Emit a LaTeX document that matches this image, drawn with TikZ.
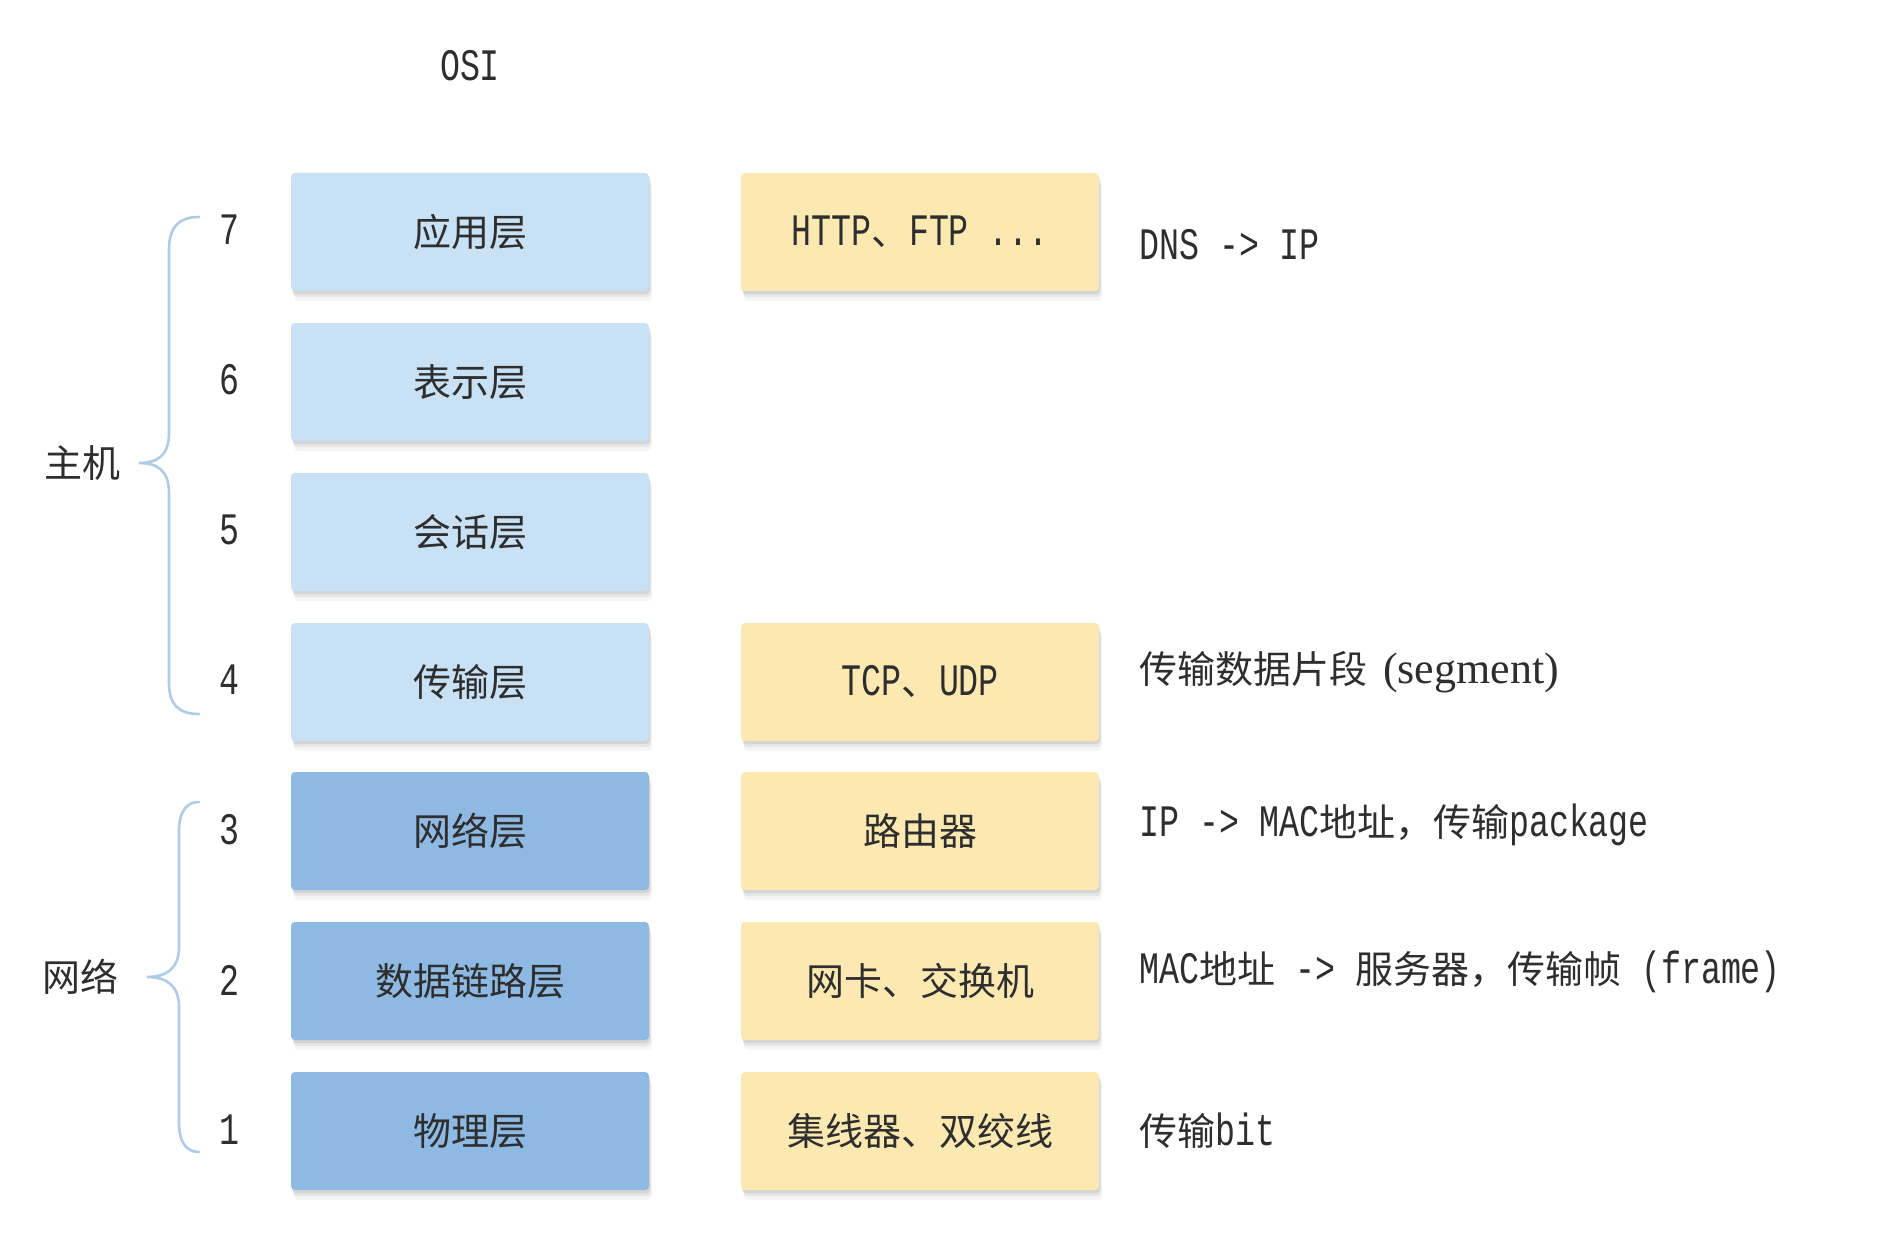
\documentclass[tikz,border=0pt]{standalone}
\usepackage{fontspec}
\setmainfont{Noto Sans CJK SC}
\newfontfamily\monofam{Liberation Mono}[FakeStretch=0.74]
\newfontfamily\seriffam{Liberation Serif}
\usetikzlibrary{shadows}
\definecolor{lblue}{HTML}{C8E1F5}
\definecolor{dblue}{HTML}{8DB9E3}
\definecolor{lyellow}{HTML}{FCE9B1}
\definecolor{bracec}{HTML}{AFCBE6}
\definecolor{txt}{HTML}{2E2E2E}
\newcommand\monot[1]{{\monofam\fontsize{45}{47}\selectfont #1}}
\begin{document}
\begin{tikzpicture}[x=1pt,y=-1pt,
  box/.style={minimum width=358pt, minimum height=118pt, rounded corners=4pt,
    inner sep=0pt, text=txt, font=\fontsize{38}{40}\selectfont,
    drop shadow={shadow xshift=1pt, shadow yshift=-3pt, opacity=0.08, fill=black},
    drop shadow={shadow xshift=2pt, shadow yshift=-6pt, opacity=0.06, fill=black},
    drop shadow={shadow xshift=3pt, shadow yshift=-10pt, opacity=0.04, fill=black}},
  upper/.style={box, fill=lblue},
  lower/.style={box, fill=dblue},
  dev/.style={box, fill=lyellow},
  num/.style={text=txt, inner sep=0pt, font=\monofam\fontsize{45}{47}\selectfont},
  lbl/.style={text=txt, inner sep=0pt, anchor=west, font=\fontsize{38}{40}\selectfont},
  grp/.style={text=txt, inner sep=0pt, font=\fontsize{38}{40}\selectfont},
  bracestyle/.style={draw=bracec, line width=2.6pt, line cap=round}]
\useasboundingbox (0,0) rectangle (1892,1260);
\fill[white] (0,0) rectangle (1892,1260);

\node[num] (osi) at (470,66) {OSI};

% layers
\node[upper] (l7) at (470,232) {应用层};
\node[upper] (l6) at (470,382) {表示层};
\node[upper] (l5) at (470,532) {会话层};
\node[upper] (l4) at (470,682) {传输层};
\node[lower] (l3) at (470,831) {网络层};
\node[lower] (l2) at (470,981) {数据链路层};
\node[lower] (l1) at (470,1131) {物理层};

% numbers
\node[num] (n7) at (229,230) {7};
\node[num] (n6) at (229,380) {6};
\node[num] (n5) at (229,530) {5};
\node[num] (n4) at (229,680) {4};
\node[num] (n3) at (229,830) {3};
\node[num] (n2) at (229,980) {2};
\node[num] (n1) at (229,1130) {1};

% devices / protocols
\node[dev] (d7) at (920,232) {\monot{HTTP}、\monot{FTP ...}};
\node[dev] (d4) at (920,682) {\monot{TCP}、\monot{UDP}};
\node[dev] (d3) at (920,831) {路由器};
\node[dev] (d2) at (920,981) {网卡、交换机};
\node[dev] (d1) at (920,1131) {集线器、双绞线};

% descriptions
\node[lbl] (t7) at (1139,245) {\monot{DNS -> IP}};
\node[lbl] (t4) at (1139,672) {传输数据片段\hspace{16pt}{\seriffam\fontsize{44}{46}\selectfont (segment)}};
\node[lbl] (t3) at (1139,825) {\monot{IP -> MAC}地址，传输\monot{package}};
\node[lbl] (t2) at (1139,972) {\monot{MAC}地址\monot{ -> }服务器，传输帧\monot{ (frame)}};
\node[lbl] (t1) at (1139,1131) {传输\monot{bit}};

% groups
\node[grp] (host) at (82,463) {主机};
\node[grp] (net) at (80,977) {网络};

% braces
\draw[bracestyle] (199,217) .. controls (178,217) and (169,228) .. (169,250)
  -- (169,433) .. controls (169,455) and (158,463) .. (139,463)
  .. controls (158,463) and (169,471) .. (169,493)
  -- (169,683) .. controls (169,704) and (178,714) .. (199,714);
\draw[bracestyle] (199,802) .. controls (186,802) and (179,812) .. (179,832)
  -- (179,947) .. controls (179,969) and (166,977) .. (147,977)
  .. controls (166,977) and (179,985) .. (179,1007)
  -- (179,1122) .. controls (179,1142) and (186,1152) .. (199,1152);
\end{tikzpicture}
\end{document}
